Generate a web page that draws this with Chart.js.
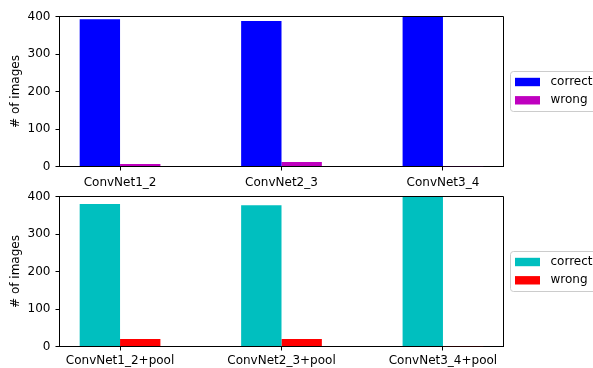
<!DOCTYPE html>
<html>
<head>
<meta charset="utf-8">
<script src="https://cdn.jsdelivr.net/npm/chart.js@4"></script>
<style>
  html, body { margin: 0; padding: 0; background: #ffffff; }
  #wrap { position: relative; width: 593px; height: 368px; overflow: hidden; }
  canvas { position: absolute; left: 0; display: block; }
  #c1 { top: 0; }
  #c2 { top: 184px; }
</style>
</head>
<body>
<div id="wrap">
  <canvas id="c1" width="593" height="194"></canvas>
  <canvas id="c2" width="593" height="184"></canvas>
</div>
<script>
// Plain models (top) and models with pooling (bottom)
const topCategories = ['ConvNet1_2', 'ConvNet2_3', 'ConvNet3_4'];
const topCorrect = [393, 388, 399];
const topWrong = [7, 12, 1];

const bottomCategories = ['ConvNet1_2+pool', 'ConvNet2_3+pool', 'ConvNet3_4+pool'];
const bottomCorrect = [380, 377, 399];
const bottomWrong = [20, 20, 1];

const yTicks = [0, 100, 200, 300, 400];
const seriesLabels = ['correct', 'wrong'];

const FONT = { family: 'DejaVu Sans', size: 12 };

// Frame around the plot area (top and right spines)
const framePlugin = {
  id: 'frame',
  afterDraw(chart) {
    const { ctx, chartArea: a } = chart;
    ctx.save();
    ctx.strokeStyle = '#000000';
    ctx.lineWidth = 1;
    ctx.beginPath();
    ctx.moveTo(a.left, a.top);
    ctx.lineTo(a.right, a.top);
    ctx.lineTo(a.right, a.bottom);
    ctx.stroke();
    ctx.restore();
  }
};

// Legend box placed to the right of the plot, vertically centred
const sideLegend = {
  id: 'sideLegend',
  afterDraw(chart) {
    const { ctx, chartArea: a } = chart;
    const x = Math.round(a.right) + 6.5;
    const y = Math.round((a.top + a.bottom) / 2) - 20.5;
    const w = 100, h = 40, r = 3;
    ctx.save();
    ctx.fillStyle = 'rgba(255,255,255,0.8)';
    ctx.strokeStyle = '#cccccc';
    ctx.lineWidth = 1;
    ctx.beginPath();
    ctx.moveTo(x + r, y);
    ctx.lineTo(x + w - r, y);
    ctx.arcTo(x + w, y, x + w, y + r, r);
    ctx.lineTo(x + w, y + h - r);
    ctx.arcTo(x + w, y + h, x + w - r, y + h, r);
    ctx.lineTo(x + r, y + h);
    ctx.arcTo(x, y + h, x, y + h - r, r);
    ctx.lineTo(x, y + r);
    ctx.arcTo(x, y, x + r, y, r);
    ctx.closePath();
    ctx.fill();
    ctx.stroke();
    ctx.font = FONT.size + 'px ' + FONT.family;
    ctx.textBaseline = 'middle';
    ctx.textAlign = 'left';
    chart.data.datasets.forEach((ds, i) => {
      const cy = y + 10.5 + i * 18.3;
      ctx.fillStyle = ds.backgroundColor;
      ctx.fillRect(x + 4.5, cy - 4.2, 25, 8.4);
      ctx.fillStyle = '#000000';
      ctx.fillText(ds.label, x + 40, cy);
    });
    ctx.restore();
  }
};

function makeChart(id, categories, correct, wrong, colors, padTop, xAxisHeight, labelPad) {
  const toPoints = vals => vals.map((v, i) => ({ x: i, y: v }));
  return new Chart(document.getElementById(id), {
    type: 'bar',
    data: {
      datasets: [
        { label: seriesLabels[0], data: toPoints(correct), backgroundColor: colors[0], borderWidth: 0 },
        { label: seriesLabels[1], data: toPoints(wrong), backgroundColor: colors[1], borderWidth: 0 }
      ]
    },
    options: {
      responsive: false,
      animation: false,
      devicePixelRatio: 1,
      barPercentage: 1,
      categoryPercentage: 0.5,
      layout: { padding: { left: 0, right: 89.5, top: padTop, bottom: 0 } },
      plugins: { legend: { display: false }, tooltip: { enabled: false } },
      scales: {
        x: {
          type: 'linear',
          offset: false,
          min: -0.375,
          max: 2.375,
          afterBuildTicks(scale) { scale.ticks = categories.map((c, i) => ({ value: i })); },
          afterFit(scale) { scale.height = xAxisHeight; },
          ticks: {
            color: '#000000',
            font: FONT,
            padding: labelPad,
            maxRotation: 0,
            autoSkip: false,
            callback: v => categories[v]
          },
          grid: { display: true, drawOnChartArea: false, drawTicks: true, tickLength: 4, color: '#000000', offset: false },
          border: { display: true, color: '#000000', width: 1 }
        },
        y: {
          min: 0,
          max: 400,
          afterBuildTicks(scale) { scale.ticks = yTicks.map(v => ({ value: v })); },
          afterFit(scale) { scale.width = 59.5; },
          ticks: { color: '#000000', font: FONT, padding: 5 },
          grid: { display: true, drawOnChartArea: false, drawTicks: true, tickLength: 4, color: '#000000' },
          border: { display: true, color: '#000000', width: 1 },
          title: { display: true, text: '# of images', color: '#000000', font: FONT, padding: { top: 9, bottom: 0 } }
        }
      }
    },
    plugins: [framePlugin, sideLegend]
  });
}

makeChart('c1', topCategories, topCorrect, topWrong, ['#0000ff', '#bf00bf'], 16.5, 27.5, 5);
makeChart('c2', bottomCategories, bottomCorrect, bottomWrong, ['#00bfbf', '#ff0000'], 12.5, 21.5, 3);
</script>
</body>
</html>
